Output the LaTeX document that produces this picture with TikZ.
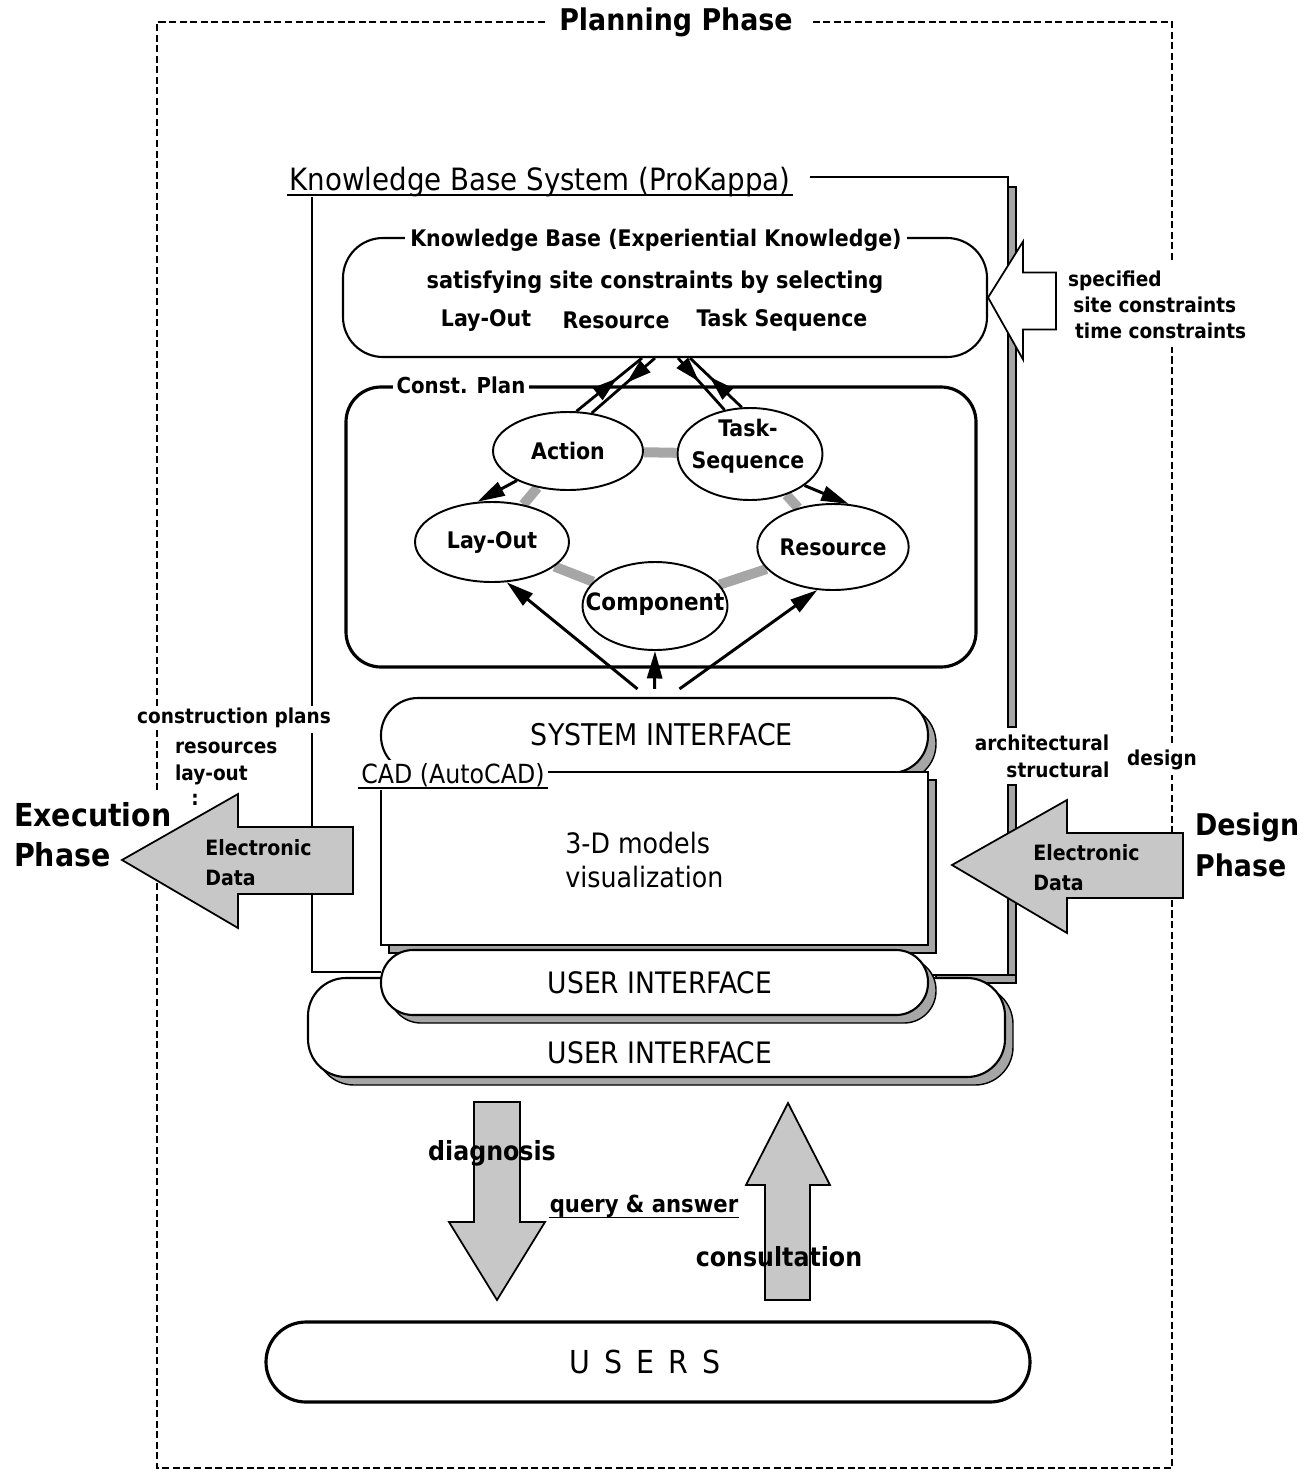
\documentclass[tikz,border=0pt]{standalone}
\usepackage{fontspec}
\setmainfont{DejaVu Sans Condensed}
\usetikzlibrary{arrows.meta,shapes.geometric,fit,shadows,backgrounds,decorations.markings}
\newcommand{\fz}[1]{\fontsize{#1}{#1}\selectfont}

\begin{document}
\begin{tikzpicture}[x=0.02cm,y=-0.02cm,
  frame/.style={draw, line width=1.2pt, fill=white, inner sep=0pt},
  heavy/.style={line width=1.8pt},
  shade/.style={drop shadow={shadow xshift=0.16cm, shadow yshift=-0.16cm, opacity=1, fill=black!35, draw=black, line width=0.8pt}},
  oval/.style={ellipse, draw, line width=1.1pt, fill=white, inner sep=0pt, font=\bfseries\fz{13}},
  link/.style={line width=0.2cm, draw=black!35},
  flow/.style={line width=1.7pt, -{Triangle[length=0.55cm,width=0.3cm]}},
  pairline/.style={line width=1.6pt, postaction={decorate}, decoration={markings, mark=at position #1 with {\arrow{Triangle[length=0.5cm,width=0.3cm]}}}},
  block/.style={draw, line width=1pt, fill=black!22, line join=miter},
  phase/.style={line width=0.8pt, dash pattern=on 4pt off 2pt},
  rule/.style={line width=1.2pt},
  lbl/.style={inner sep=1pt, font=\bfseries\fz{12}},
  side/.style={inner sep=1pt, font=\bfseries\fz{11.7}},
  iface/.style={font=\fz{16.8}, inner sep=0pt},
]
\useasboundingbox (0,0) rectangle (1314,1474);

% ---------- planning phase frame ----------
\draw[phase] (545,22) -- (157,22) -- (157,792);
\draw[phase] (157,883) -- (157,1468) -- (1172,1468) -- (1172,775);
\draw[phase] (1172,743) -- (1172,347);
\draw[phase] (1172,260) -- (1172,22) -- (810,22);
\node[font=\bfseries\fz{17}, inner sep=1pt] (planning) at (676,22) {Planning Phase};

% ---------- knowledge base system frame ----------
\filldraw[fill=black!35, line width=0.6pt] (1008,187) rectangle (1016,727);
\filldraw[fill=black!35, line width=0.6pt] (1008,785) rectangle (1016,983);
\filldraw[fill=black!35, line width=0.6pt] (936,975) rectangle (1016,983);
\draw[rule] (810,177) -- (1008,177) -- (1008,727);
\draw[rule] (1008,785) -- (1008,975) -- (928,975);
\draw[rule] (312,197) -- (312,708);
\draw[rule] (312,733) -- (312,972) -- (381,972);
\node[font=\fz{17.5}, inner sep=1pt] (kbs) at (540,182) {Knowledge Base System (ProKappa)};
\draw[line width=1pt] ([yshift=-2.5pt]kbs.base west) -- ([yshift=-2.5pt]kbs.base east);

% ---------- knowledge base ----------
\node[frame, fit={(343,238) (987,357)}, rounded corners=0.8cm] (kb) {};
\node[fill=white, inner sep=3pt, font=\bfseries\fz{13}] (kbtitle) at (656,240) {Knowledge Base (Experiential Knowledge)};
\node[font=\bfseries\fz{13.2}] (kbline) at (655,282) {satisfying site constraints by selecting};
\node[font=\bfseries\fz{13}] (kblay) at (486,320) {Lay-Out};
\node[font=\bfseries\fz{13}] (kbres) at (616,320) {Resource};
\node[font=\bfseries\fz{13}] (kbtask) at (782,320) {Task Sequence};

% constraints arrow into the knowledge base
\draw[line width=1pt, fill=white, line join=miter] (kb.east) -- ++(35,-56) -- ++(0,31) -- ++(33,0) -- ++(0,57) -- ++(-33,0) -- ++(0,30) -- cycle;
\node[side, fill=white, align=left, anchor=west, font=\bfseries\fontsize{11.7}{14.7}\selectfont] (constr) at (1066,305)
  {specified\\\hspace{3pt}site constraints\\\hspace{4pt}time constraints};

% ---------- construction plan ----------
\node[draw, heavy, inner sep=0pt, fit={(346,387) (976,667)}, rounded corners=0.7cm] (plan) {};
\node[fill=white, inner sep=2pt, font=\bfseries\fz{12.5}] (plantitle) at (461,385) {Const. Plan};

\node[oval, minimum width=3.0cm, minimum height=1.56cm] (action) at (568,451) {Action};
\node[oval, minimum width=2.9cm, minimum height=1.84cm] (task) at (750,454) {};
\node[font=\bfseries\fz{13}, align=center, inner sep=0pt] (tasklbl) at (748,446) {Task-\\[5pt]Sequence};
\node[oval, minimum width=3.08cm, minimum height=1.6cm] (layout) at (492,542) {Lay-Out};
\node[oval, minimum width=2.96cm, minimum height=1.72cm] (resource) at (833,547) {Resource};
\node[oval, minimum width=2.9cm, minimum height=1.76cm] (component) at (655,606) {};
\node[font=\bfseries\fz{13.6}, inner sep=0pt] (complbl) at (655,604) {Component};

\begin{pgfonlayer}{background}
  \draw[link] (action) -- (task);
  \draw[link] (action) -- (layout);
  \draw[link] (task) -- (resource);
  \draw[link] (layout) -- (component);
  \draw[link] (component) -- (resource);
\end{pgfonlayer}

\draw[flow] (action.210) -- (layout.110);
\draw[flow] (task.330) -- (resource.70);

\draw[pairline={0.62}] (action.78) -- ([xshift=-0.46cm]kb.south);
\draw[pairline={0.45}] ([xshift=-0.2cm]kb.south) -- (action.58);
\draw[pairline={0.45}] ([xshift=0.26cm]kb.south) -- (task.120);
\draw[pairline={0.62}] (task.100) -- ([xshift=0.5cm]kb.south);

% ---------- interfaces and CAD ----------
\node[frame, shade, fit={(308,978) (1005,1077)}, rounded corners=0.76cm] (uiouter) {};
\node[iface] (uiouterlbl) at (660,1053) {USER INTERFACE};

\node[frame, shade, fit={(381,698) (928,773)}, rounded corners=0.74cm] (si) {};
\node[iface, font=\fz{17}] (silbl) at (662,735) {SYSTEM INTERFACE};

\draw[flow] ([shift={(-0.34cm,0.16cm)}]si.north) -- (layout.290);
\draw[flow] ([yshift=0.16cm]si.north) -- (component.south);
\draw[flow] ([shift={(0.5cm,0.16cm)}]si.north) -- (resource.250);

\node[frame, shade, fit={(381,772) (928,945)}] (cad) {};
\node[anchor=west, font=\fz{16}, inner sep=0pt] (models) at (565,843) {3-D models};
\node[anchor=west, font=\fz{16}, inner sep=0pt] (visual) at (565,877) {visualization};
\node[fill=white, font=\fz{15}, inner sep=2pt] (cadlbl) at (453,775) {CAD (AutoCAD)};
\draw[line width=1pt] ([yshift=-2.5pt]cadlbl.base west) -- ([yshift=-2.5pt]cadlbl.base east);

\node[frame, shade, fit={(381,950) (928,1015)}, rounded corners=0.64cm] (uiinner) {};
\node[iface] (uiinnerlbl) at (660,983) {USER INTERFACE};

% ---------- execution phase ----------
\draw[block] (122,860) -- (238,794) -- (238,827) -- (353,827) -- (353,894) -- (238,894) -- (238,928) -- cycle;
\node[lbl, anchor=west, inner sep=0pt] (exel) at (205,848) {Electronic};
\node[lbl, anchor=west, inner sep=0pt] (exdata) at (205,878) {Data};
\node[font=\bfseries\fz{18}, anchor=west, inner sep=1pt, fill=white] (exec) at (12,815) {Execution};
\node[font=\bfseries\fz{18}, anchor=west, inner sep=1pt] (exphase) at (12,855) {Phase};
\node[side, fill=white] (cplans) at (234,718) {construction plans};
\node[side, anchor=west] (cres) at (173,748) {resources};
\node[side, anchor=west] (clay) at (173,775) {lay-out};
\node[side] (cdots) at (195,800) {:};

% ---------- design phase ----------
\draw[block] (952,865) -- (1067,800) -- (1067,833) -- (1183,833) -- (1183,898) -- (1067,898) -- (1067,933) -- cycle;
\node[lbl, anchor=west, inner sep=0pt] (deel) at (1033,853) {Electronic};
\node[lbl, anchor=west, inner sep=0pt] (dedata) at (1033,883) {Data};
\node[font=\bfseries\fz{17}, anchor=west, inner sep=1pt] (design) at (1193,827) {Design};
\node[font=\bfseries\fz{17}, anchor=west, inner sep=1pt] (dephase) at (1193,865) {Phase};
\node[side, fill=white] (arch) at (1042,743) {architectural};
\node[side, fill=white] (struct) at (1058,770) {structural};
\node[side, fill=white] (desw) at (1162,760) {design};

% ---------- users ----------
\draw[block] (474,1102) -- (520,1102) -- (520,1222) -- (545,1222) -- (497,1300) -- (449,1222) -- (474,1222) -- cycle;
\draw[block] (788,1103) -- (830,1185) -- (810,1185) -- (810,1300) -- (765,1300) -- (765,1185) -- (746,1185) -- cycle;
\node[font=\bfseries\fz{15}, inner sep=0pt] (diag) at (492,1153) {diagnosis};
\node[font=\bfseries\fz{15}, inner sep=0pt] (consult) at (779,1257) {consultation};
\node[font=\bfseries\fz{13.4}, inner sep=0pt] (query) at (644,1206) {query \& answer};
\draw[line width=1pt] ([yshift=-3pt]query.base west) -- ([yshift=-3pt]query.base east);

\node[frame, heavy, fit={(266,1322) (1030,1402)}, rounded corners=0.8cm] (users) {};
\node[font=\fz{18}, inner sep=0pt] (userslbl) at (645,1362)
  {U\hspace{0.45em}S\hspace{0.45em}E\hspace{0.45em}R\hspace{0.45em}S};

\end{tikzpicture}
\end{document}
